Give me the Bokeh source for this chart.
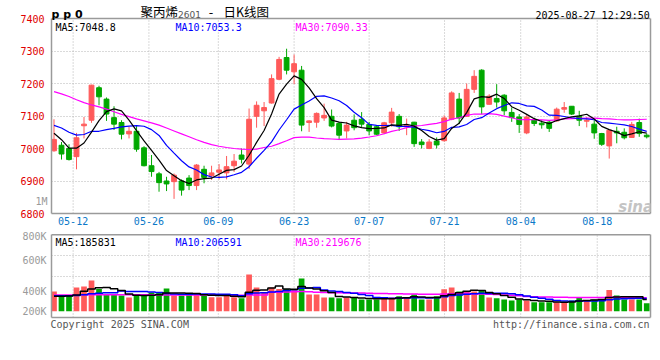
from bokeh.plotting import figure
from bokeh.layouts import column
from bokeh.models import Range1d, FixedTicker, Grid, Label, ColumnDataSource, LinearAxis, Span
from bokeh.embed import file_html
from bokeh.resources import INLINE

# ---------------- data ----------------
tick_labels = ["05-12", "05-26", "06-09", "06-23", "07-07", "07-21", "08-04", "08-18"]
tick_pos = [2.55, 12.65, 21.9, 32.0, 42.0, 52.05, 62.2, 72.4]

open_ = [6993, 7010, 7000, 6975, 7070, 7087, 7187, 7152, 7095, 7080,
         7045, 7053, 7002, 6947, 6922, 6900, 6898, 6900, 6909, 6886,
         6936, 6916, 6927, 6925, 6947, 6980, 6952, 7099, 7116, 7140,
         7213, 7280, 7236, 7241, 7080, 7081, 7094, 7099, 7077, 7054,
         7087, 7090, 7074, 7067, 7048, 7079, 7099, 7067, 7081, 7020,
         7000, 7023, 7024, 7090, 7152, 7099, 7182, 7241, 7136, 7154,
         7164, 7111, 7097, 7048, 7089, 7078, 7081, 7085, 7121, 7130,
         7099, 7084, 7075, 7046, 7008, 7053, 7050, 7034, 7080, 7041]
high = [7090, 7020, 7013, 7048, 7097, 7196, 7193, 7157, 7130, 7087,
        7067, 7069, 7007, 6980, 6928, 6913, 6923, 6905, 6918, 6952,
        6947, 6947, 6952, 6977, 6983, 7000, 7123, 7145, 7143, 7228,
        7282, 7307, 7289, 7254, 7087, 7111, 7138, 7120, 7082, 7082,
        7105, 7112, 7082, 7072, 7082, 7125, 7106, 7092, 7082, 7029,
        7029, 7034, 7102, 7176, 7171, 7200, 7241, 7244, 7167, 7198,
        7167, 7126, 7106, 7103, 7095, 7087, 7087, 7126, 7143, 7130,
        7116, 7097, 7087, 7048, 7056, 7067, 7062, 7082, 7092, 7046]
low = [6990, 6966, 6963, 6936, 7031, 7079, 7133, 7085, 7057, 7028,
       7031, 6990, 6945, 6913, 6867, 6869, 6845, 6855, 6872, 6872,
       6893, 6903, 6905, 6905, 6928, 6954, 6937, 7064, 7069, 7138,
       7210, 7228, 7198, 7053, 7051, 7064, 7085, 7065, 7026, 7031,
       7056, 7065, 7041, 7041, 7044, 7067, 7054, 7041, 7005, 7000,
       6998, 7000, 7021, 7087, 7075, 7097, 7171, 7106, 7135, 7126,
       7102, 7082, 7048, 7044, 7069, 7061, 7051, 7083, 7110, 7103,
       7069, 7065, 7030, 7008, 6969, 7016, 7028, 7033, 7036, 7031]
close_ = [7028, 6983, 6966, 7033, 7075, 7195, 7159, 7106, 7075, 7044,
          7053, 6998, 6947, 6929, 6895, 6891, 6918, 6872, 6886, 6949,
          6911, 6925, 6934, 6944, 6961, 6967, 7090, 7133, 7126, 7215,
          7274, 7241, 7261, 7072, 7085, 7108, 7102, 7069, 7041, 7072,
          7064, 7075, 7054, 7044, 7079, 7112, 7067, 7071, 7015, 7012,
          7020, 7011, 7094, 7171, 7094, 7182, 7222, 7128, 7161, 7143,
          7116, 7095, 7074, 7097, 7077, 7073, 7062, 7121, 7126, 7106,
          7087, 7087, 7048, 7013, 7056, 7048, 7033, 7074, 7046, 7036]
volume = [312000, 248000, 248000, 375000, 391000, 486000, 353000, 274000, 274000, 248000,
          217000, 248000, 248000, 296000, 296000, 359000, 248000, 248000, 274000, 274000,
          248000, 222000, 222000, 274000, 222000, 206000, 581000, 375000, 301000, 375000,
          353000, 353000, 353000, 517000, 264000, 264000, 217000, 217000, 206000, 217000,
          217000, 185000, 185000, 185000, 217000, 217000, 237000, 217000, 264000, 185000,
          185000, 237000, 348000, 375000, 312000, 312000, 312000, 328000, 217000, 206000,
          185000, 169000, 185000, 169000, 142000, 142000, 142000, 142000, 142000, 169000,
          217000, 169000, 185000, 185000, 337000, 248000, 185000, 185000, 185000, 127000]

# moving-average values before enough history is on the chart
ma5_head = [7047, 7027, 7001, 7001]
ma10_head = [7071, 7063, 7050, 7041, 7043, 7053, 7053, 7058, 7062]
ma30_head = [7175, 7168, 7160, 7150, 7141, 7134, 7128, 7121, 7113, 7105,
             7098, 7091, 7085, 7079, 7072, 7063, 7054, 7045, 7036, 7027,
             7019, 7012, 7007, 7003, 7000, 6998, 6997, 6998, 7003]
vma5_head = [237000, 237000, 240000, 258000]
vma10_head = [245000, 245000, 245000, 250000, 262000, 275000, 285000, 290000, 290000]
vma30_head = [255000, 255000, 256000, 258000, 260000, 262000, 262000, 262000, 262000, 262000,
              262000, 261000, 260000, 259000, 258000, 257000, 256000, 256000, 255000, 255000,
              255000, 255000, 254000, 254000, 254000, 254000, 255000, 256000, 257000]

header_price = ["MA5:7048.8", "MA10:7053.3", "MA30:7090.33"]
header_vol = ["MA5:185831", "MA10:206591", "MA30:219676"]
price_ticks = [6800, 6900, 7000, 7100, 7200, 7300, 7400]
vol_labels = ["800K", "600K", "400K", "200K"]
footer = ["Copyright 2025 SINA.COM", "http://finance.sina.com.cn"]


def moving(vals, w, head):
    out = list(head)
    for i in range(len(head), len(vals)):
        out.append(sum(vals[i - w + 1:i + 1]) / w)
    return out


n = len(close_)
xs = list(range(n))
RED, GREEN = "#ff5a5a", "#00a800"
colors = [RED if c >= o else GREEN for o, c in zip(open_, close_)]
src = ColumnDataSource(dict(
    x=xs, open=open_, high=high, low=low, close=close_,
    top=[max(o, c) for o, c in zip(open_, close_)],
    bot=[min(o, c) for o, c in zip(open_, close_)],
    color=colors, vol=volume,
    ma5=moving(close_, 5, ma5_head), ma10=moving(close_, 10, ma10_head),
    ma30=moving(close_, 30, ma30_head),
    vma5=moving(volume, 5, vma5_head), vma10=moving(volume, 10, vma10_head),
    vma30=moving(volume, 30, vma30_head),
))

# ---------------- geometry helpers (page pixel -> data) ----------------
XS, XE = -0.333, 79.5
def px(page_x):
    return XS + (page_x - 51.0) / 7.506

def py(page_y):            # price panel: box 7400 at y=18, 6800 at y=213
    return 7400 - (page_y - 18.0) * 600 / 195.0

K = 0.0632                 # volume panel: px per 1000 lots
V0 = 310.7                 # page y of zero volume
def pv(page_y):
    return (V0 - page_y) / K * 1000

P_TOP, P_BOX, P_BOT = py(0.0), 7400, 6800
V_TOP, V_BOX, V_BOT = pv(230.0), pv(234.3), pv(317.0)

MONO = "DejaVu Sans Mono"
CJK = "Noto Sans CJK SC"
GRID = "#b4b4b4"
BORDER = "#9a9a9a"

common = dict(output_backend="svg", toolbar_location=None, frame_width=599,
              min_border_left=51, min_border_right=2, min_border_top=0,
              background_fill_color="white", border_fill_color="white",
              outline_line_color=None)


def style_axis(a, color, standoff, line=False, bounds=None):
    a.major_tick_line_color = None
    a.minor_tick_line_color = None
    a.major_tick_out = 0
    a.major_tick_in = 0
    a.axis_line_color = BORDER if line else None
    a.axis_line_width = 1.5
    a.major_label_standoff = standoff
    a.major_label_text_color = color
    a.major_label_text_font = MONO
    a.major_label_text_font_size = "10px"
    if bounds is not None:
        a.bounds = bounds


def border_axis(p, side, bounds):
    a = LinearAxis(ticker=FixedTicker(ticks=[]))
    style_axis(a, "black", 0, line=True, bounds=bounds)
    p.add_layout(a, side)


def lab(p, x, y, text, color="black", size="10px", font=MONO, align="left",
        style="normal", baseline="alphabetic"):
    p.add_layout(Label(x=x, y=y, text=text, text_color=color, text_font_size=size,
                       text_font=font, text_align=align, text_baseline=baseline,
                       text_font_style=style))


# ---------------- price panel ----------------
p1 = figure(frame_height=213, min_border_bottom=17,
            x_range=Range1d(XS, XE), y_range=Range1d(P_BOT, P_TOP),
            x_axis_location="below", y_axis_location="left", **common)
p1.grid.visible = False

# left: stray gray "1M" label, axis line forms the box's left edge
tick_1m = round(py(200.7), 1)
ax_1m = p1.yaxis[0]
ax_1m.ticker = FixedTicker(ticks=[tick_1m])
ax_1m.major_label_overrides = {tick_1m: "1M"}
style_axis(ax_1m, "#9a9a9a", 4, line=True, bounds=(P_BOT, P_BOX))
# red price labels
ax_p = LinearAxis(ticker=FixedTicker(ticks=price_ticks))
style_axis(ax_p, "#e00000", -12)
p1.add_layout(ax_p, "left")
border_axis(p1, "right", (P_BOT, P_BOX))

# bottom: date labels, axis line = box bottom edge
xa = p1.xaxis[0]
xa.ticker = FixedTicker(ticks=tick_pos)
xa.major_label_overrides = {t: l for t, l in zip(tick_pos, tick_labels)}
style_axis(xa, "#0a78c8", 3, line=True)

p1.add_layout(Span(location=P_BOX, dimension="width", line_color=BORDER, line_width=1.5))
p1.add_layout(Grid(dimension=1, ticker=FixedTicker(ticks=price_ticks[1:-1]),
                   grid_line_color=GRID, grid_line_dash="1 2"))
p1.segment(x0=tick_pos, y0=[P_BOT] * len(tick_pos), x1=tick_pos, y1=[P_BOX] * len(tick_pos),
           line_color=GRID, line_dash="1 2", line_width=1)

p1.segment(x0="x", y0="high", x1="x", y1="low", color="color", line_width=1, source=src)
p1.vbar(x="x", width=0.64, top="top", bottom="bot", fill_color="color",
        line_color="color", line_width=1, source=src)
p1.line("x", "ma30", color="#ff00ff", line_width=1.2, source=src)
p1.line("x", "ma10", color="#0000ff", line_width=1.2, source=src)
p1.line("x", "ma5", color="black", line_width=1.2, source=src)

for t, c, x0 in zip(header_price, ["black", "#0000ff", "#ff00ff"], [55, 175, 295]):
    lab(p1, px(x0), py(26.7), t, color=c)
lab(p1, px(51.0), py(13.5), "p p 0", style="bold", size="11px", font="DejaVu Sans")
lab(p1, px(140), py(11.2), "聚丙烯", size="12.5px", font=CJK, baseline="middle")
lab(p1, px(177.5), py(14.0), "2601", size="9px", color="#555555", font="DejaVu Sans")
lab(p1, px(210.5), py(11.2), "-", size="13px", font=CJK, align="center", baseline="middle")
lab(p1, px(223), py(11.2), "日K线图", size="12.5px", font=CJK, baseline="middle")
lab(p1, px(649.5), py(15.0), "2025-08-27 12:29:50", align="right")
lab(p1, px(618), py(206.5), "sina", color="#c4c4c4", size="15px", font="DejaVu Sans",
    style="bold italic")

# ---------------- volume panel ----------------
p2 = figure(frame_height=87, min_border_bottom=14,
            x_range=p1.x_range, y_range=Range1d(V_BOT, V_TOP),
            x_axis_location="below", y_axis_location="left", **common)
p2.grid.visible = False

# left: box edge first (no labels), then the gray volume labels
ya_line = p2.yaxis[0]
ya_line.ticker = FixedTicker(ticks=[])
style_axis(ya_line, "black", 0, line=True, bounds=(V_BOT, V_BOX))
vol_tick = [round(pv(y)) for y in (230.3, 260.3, 291.0, 311.0)]
ya = LinearAxis(ticker=FixedTicker(ticks=vol_tick))
ya.major_label_overrides = {t: l for t, l in zip(vol_tick, vol_labels)}
style_axis(ya, "#9a9a9a", 5)
p2.add_layout(ya, "left")
border_axis(p2, "right", (V_BOT, V_BOX))

# bottom: footer texts, axis line = box bottom edge
foot_tick = [round(px(119.2), 3), round(px(571.0), 3)]
fa = p2.xaxis[0]
fa.ticker = FixedTicker(ticks=foot_tick)
fa.major_label_overrides = {t: l for t, l in zip(foot_tick, footer)}
style_axis(fa, "#555555", 1, line=True)

p2.add_layout(Span(location=V_BOX, dimension="width", line_color=BORDER, line_width=1.5))
p2.add_layout(Grid(dimension=1, ticker=FixedTicker(ticks=[pv(255.3), pv(275.5)]),
                   grid_line_color=GRID, grid_line_dash="1 2"))
p2.segment(x0=tick_pos, y0=[V_BOT] * len(tick_pos), x1=tick_pos, y1=[V_BOX] * len(tick_pos),
           line_color=GRID, line_dash="1 2", line_width=1)

p2.vbar(x="x", width=0.76, top="vol", bottom=0, fill_color="color", line_color=None, source=src)
p2.step("x", "vma30", mode="center", color="#ff00ff", line_width=1.5, source=src)
p2.step("x", "vma10", mode="center", color="#0000ff", line_width=1.5, source=src)
p2.step("x", "vma5", mode="center", color="black", line_width=1.5, source=src)

for t, c, x0 in zip(header_vol, ["black", "#0000ff", "#ff00ff"], [55, 175, 295]):
    lab(p2, px(x0), pv(241.7), t, color=c)

layout = column(p1, p2, spacing=0)
open("out.html", "w").write(file_html(layout, INLINE))
